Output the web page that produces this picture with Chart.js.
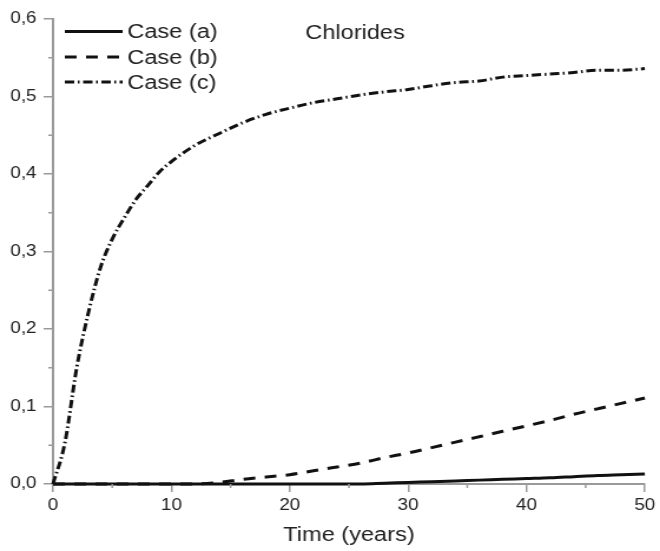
<!DOCTYPE html>
<html>
<head>
<meta charset="utf-8">
<script src="https://cdn.jsdelivr.net/npm/chart.js@4/dist/chart.umd.min.js"></script>
<style>
  html, body { margin: 0; padding: 0; background: #fff; overflow: hidden; }
  /* the original figure is stretched sideways, so draw narrow and widen */
  #wrap { width: 560px; height: 551px; transform: scaleX(1.1786); transform-origin: 0 0; }
</style>
</head>
<body>
<div id="wrap"><canvas id="chlorideChart"></canvas></div>
<script>
const years = [0, 1, 2, 3, 4, 5, 6, 7, 8, 9, 10, 12, 14, 16, 18, 20, 22, 24, 26, 28, 30, 32, 34, 36, 38, 40, 42, 44, 46, 48, 50];
const caseA = [0, 0, 0, 0, 0, 0, 0, 0, 0, 0, 0, 0, 0, 0, 0, 0, 0, 0, 0, 0.001, 0.002, 0.003, 0.004, 0.005, 0.006, 0.007, 0.008, 0.0095, 0.011, 0.012, 0.013];
const caseB = [0, 0, 0, 0, 0, 0, 0, 0, 0, 0, 0, 0, 0.002, 0.006, 0.009, 0.012, 0.017, 0.022, 0.027, 0.034, 0.040, 0.047, 0.054, 0.061, 0.068, 0.075, 0.082, 0.090, 0.097, 0.104, 0.111];
const caseC = [0, 0.053, 0.15, 0.222, 0.279, 0.316, 0.343, 0.367, 0.385, 0.403, 0.416, 0.437, 0.452, 0.466, 0.477, 0.485, 0.492, 0.497, 0.502, 0.506, 0.509, 0.514, 0.518, 0.520, 0.525, 0.527, 0.529, 0.531, 0.534, 0.534, 0.536];
const seriesNames = ['Case (a)', 'Case (b)', 'Case (c)'];
const yTicks = [0, 0.1, 0.2, 0.3, 0.4, 0.5, 0.6];
const xTicks = [0, 10, 20, 30, 40, 50];

const axisColor = '#9a9a9a';
const textColor = '#222';
const fontName = '"Liberation Sans", Arial, sans-serif';

const toPoints = (vals) => vals.map((v, i) => ({ x: years[i], y: v }));

// short ticks halfway between the labelled ones
const minorTicks = {
    id: 'minorTicks',
    afterDraw(chart) {
        const { ctx, scales: { x, y } } = chart;
        ctx.save();
        ctx.strokeStyle = axisColor;
        ctx.lineWidth = 1.5;
        ctx.beginPath();
        for (let i = 0; i < yTicks.length - 1; i++) {
            const py = y.getPixelForValue((yTicks[i] + yTicks[i + 1]) / 2);
            ctx.moveTo(x.left - 4, py);
            ctx.lineTo(x.left, py);
        }
        for (let i = 0; i < xTicks.length - 1; i++) {
            const px = x.getPixelForValue((xTicks[i] + xTicks[i + 1]) / 2);
            ctx.moveTo(px, y.bottom);
            ctx.lineTo(px, y.bottom + 4);
        }
        ctx.stroke();
        ctx.restore();
    }
};

// legend with line samples inside the plot + the "Chlorides" label
const innerLegend = {
    id: 'innerLegend',
    afterDraw(chart) {
        const { ctx, chartArea } = chart;
        const x0 = chartArea.left + 10;
        const rows = [31.5, 57, 82];
        ctx.save();
        chart.data.datasets.forEach((ds, i) => {
            ctx.strokeStyle = ds.borderColor;
            ctx.lineWidth = ds.borderWidth;
            ctx.setLineDash(ds.borderDash || []);
            ctx.beginPath();
            ctx.moveTo(x0, rows[i]);
            ctx.lineTo(x0 + 49, rows[i]);
            ctx.stroke();
            ctx.setLineDash([]);
            ctx.fillStyle = textColor;
            ctx.font = '20px ' + fontName;
            ctx.textBaseline = 'middle';
            ctx.fillText(ds.label, x0 + 53, rows[i] + 1);
        });
        ctx.font = '20px ' + fontName;
        ctx.textBaseline = 'middle';
        ctx.fillText('Chlorides', chartArea.left + 214, 33);
        ctx.restore();
    }
};

const ctx = document.getElementById('chlorideChart').getContext('2d');
new Chart(ctx, {
    type: 'line',
    data: {
        datasets: [{
            label: seriesNames[0],
            data: toPoints(caseA),
            borderColor: '#111',
            borderWidth: 3,
            borderDash: []
        }, {
            label: seriesNames[1],
            data: toPoints(caseB),
            borderColor: '#111',
            borderWidth: 3,
            borderDash: [10, 8]
        }, {
            label: seriesNames[2],
            data: toPoints(caseC),
            borderColor: '#111',
            borderWidth: 3,
            borderDash: [8, 3, 1.5, 3]
        }]
    },
    options: {
        responsive: true,
        maintainAspectRatio: false,
        animation: false,
        layout: { padding: { top: 19, right: 10, left: 0, bottom: 0 } },
        elements: {
            point: { radius: 0 },
            line: { cubicInterpolationMode: 'monotone', fill: false }
        },
        datasets: { line: { clip: 6 } },
        scales: {
            x: {
                type: 'linear',
                min: 0,
                max: 50,
                afterFit: (s) => { s.height = 67; },
                afterBuildTicks: (s) => { s.ticks = xTicks.map(v => ({ value: v })); },
                border: { color: axisColor, width: 2 },
                grid: { drawOnChartArea: false, tickLength: 8, color: axisColor, lineWidth: 1.5 },
                ticks: { color: textColor, font: { family: fontName, size: 16 }, padding: 4, maxRotation: 0 },
                title: {
                    display: true,
                    text: 'Time (years)',
                    color: textColor,
                    font: { family: fontName, size: 20 },
                    padding: { top: 4, bottom: 4 }
                }
            },
            y: {
                min: 0,
                max: 0.6,
                afterFit: (s) => { s.width = 45; },
                afterBuildTicks: (s) => { s.ticks = yTicks.map(v => ({ value: v })); },
                border: { color: axisColor, width: 2 },
                grid: { drawOnChartArea: false, tickLength: 8, color: axisColor, lineWidth: 1.5 },
                ticks: {
                    color: textColor,
                    font: { family: fontName, size: 16 },
                    padding: 6,
                    callback: (v) => v.toFixed(1).replace('.', ',')
                }
            }
        },
        plugins: {
            legend: { display: false },
            tooltip: { enabled: false }
        }
    },
    plugins: [minorTicks, innerLegend]
});
</script>
</body>
</html>
